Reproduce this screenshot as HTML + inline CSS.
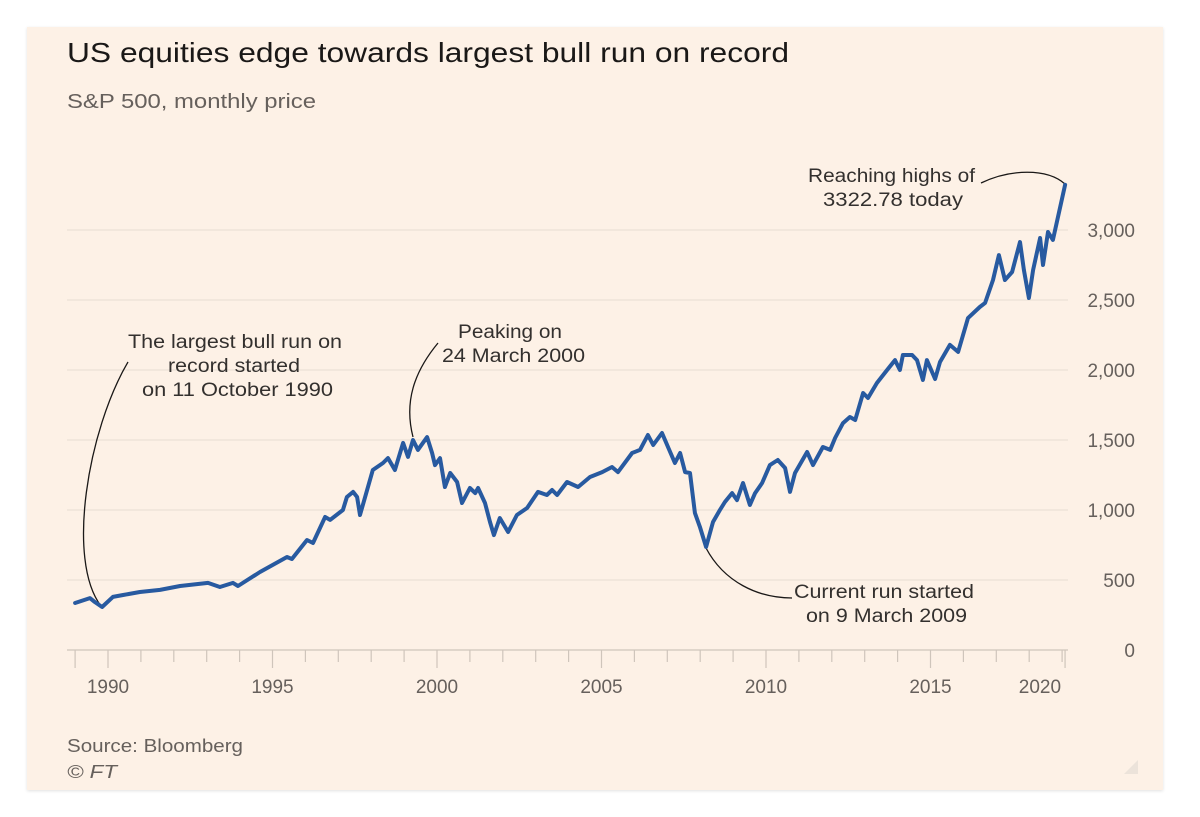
<!DOCTYPE html>
<html>
<head>
<meta charset="utf-8">
<style>
  html,body{margin:0;padding:0;background:#ffffff;}
  body{width:1200px;height:817px;position:relative;overflow:hidden;font-family:"Liberation Sans",sans-serif;}
  #panel{position:absolute;left:27px;top:27px;width:1136px;height:763px;background:#fdf1e6;box-shadow:0 1px 3px rgba(0,0,0,0.12);}
  svg{position:absolute;left:0;top:0;}
</style>
</head>
<body>
<div id="panel"></div>
<svg id="chart" width="1200" height="817" viewBox="0 0 1200 817">
  <text x="67" y="62" font-size="28" fill="#1a1817" textLength="722" lengthAdjust="spacingAndGlyphs">US equities edge towards largest bull run on record</text>
  <text x="67" y="108" font-size="20" fill="#66605c" textLength="249" lengthAdjust="spacingAndGlyphs">S&amp;P 500, monthly price</text>
  <g id="grid"></g>
  <g id="yaxis"></g>
  <g id="xaxis"></g>
  <g id="annotations" fill="none" stroke="#1a1817" stroke-width="1.3">
    <path d="M128,362 C88,430 66,560 101,606"/>
    <path d="M438,343 C414,372 404,402 413,437"/>
    <path d="M706,548 C724,582 758,598 792,598"/>
    <path d="M981,183 C1010,169 1047,168 1065,184"/>
  </g>
  <g font-size="19" fill="#33302e" text-anchor="start">
    <text x="128" y="348" textLength="214" lengthAdjust="spacingAndGlyphs">The largest bull run on</text>
    <text x="168" y="372" textLength="132" lengthAdjust="spacingAndGlyphs">record started</text>
    <text x="142" y="396" textLength="191" lengthAdjust="spacingAndGlyphs">on 11 October 1990</text>
    <text x="458" y="338" textLength="104" lengthAdjust="spacingAndGlyphs">Peaking on</text>
    <text x="442" y="362" textLength="143" lengthAdjust="spacingAndGlyphs">24 March 2000</text>
    <text x="794" y="598" textLength="180" lengthAdjust="spacingAndGlyphs">Current run started</text>
    <text x="806" y="622" textLength="161" lengthAdjust="spacingAndGlyphs">on 9 March 2009</text>
    <text x="808" y="182" textLength="167" lengthAdjust="spacingAndGlyphs">Reaching highs of</text>
    <text x="823" y="206" textLength="140" lengthAdjust="spacingAndGlyphs">3322.78 today</text>
  </g>
  <g id="series"></g>
  <text x="67" y="752" font-size="18" fill="#66605c" textLength="176" lengthAdjust="spacingAndGlyphs">Source: Bloomberg</text>
  <text x="67" y="778" font-size="18" font-style="italic" fill="#66605c" textLength="50" lengthAdjust="spacingAndGlyphs">© FT</text>
  <path d="M1124,774 L1138,760 L1138,774 Z" fill="#ece3da"/>
</svg>
<script>
const years = [1989.00,1989.45,1989.60,1989.82,1990.15,1990.46,1990.97,1991.58,1992.19,1993.04,1993.40,1993.80,1993.95,1994.62,1995.44,1995.59,1996.05,1996.23,1996.60,1996.75,1997.14,1997.26,1997.45,1997.57,1997.66,1998.05,1998.36,1998.51,1998.72,1998.97,1999.12,1999.27,1999.42,1999.70,1999.85,1999.94,2000.09,2000.24,2000.40,2000.61,2000.76,2001.00,2001.16,2001.25,2001.46,2001.61,2001.73,2001.91,2002.16,2002.43,2002.74,2003.07,2003.34,2003.50,2003.65,2003.95,2004.29,2004.65,2005.02,2005.32,2005.50,2005.93,2006.17,2006.41,2006.57,2006.84,2007.02,2007.23,2007.39,2007.54,2007.69,2007.84,2007.99,2008.18,2008.39,2008.60,2008.75,2008.97,2009.12,2009.30,2009.51,2009.67,2009.88,2010.12,2010.36,2010.58,2010.73,2010.88,2011.25,2011.43,2011.73,2011.95,2012.10,2012.34,2012.55,2012.71,2012.95,2013.10,2013.37,2013.68,2013.92,2014.07,2014.16,2014.44,2014.59,2014.77,2014.89,2015.14,2015.29,2015.59,2015.84,2016.14,2016.50,2016.66,2016.90,2017.08,2017.26,2017.48,2017.72,2017.84,2017.99,2018.12,2018.33,2018.42,2018.57,2018.72,2019.09];
const prices = [336,371,343,307,379,393,414,429,457,479,450,479,457,557,664,650,786,764,950,929,1000,1093,1129,1093,964,1286,1336,1371,1286,1479,1379,1500,1429,1521,1407,1321,1371,1164,1264,1200,1050,1157,1121,1157,1050,914,821,943,843,964,1014,1129,1107,1143,1107,1200,1164,1236,1271,1307,1271,1407,1429,1536,1464,1550,1450,1336,1407,1271,1264,979,879,736,914,1000,1057,1121,1071,1193,1036,1121,1193,1321,1357,1300,1129,1264,1414,1321,1450,1429,1514,1621,1664,1643,1836,1800,1907,2000,2071,2000,2107,2107,2071,1929,2071,1936,2057,2179,2129,2371,2450,2479,2643,2821,2643,2700,2914,2714,2514,2714,2943,2750,2986,2929,3322.78];
const yTicks = [0,500,1000,1500,2000,2500,3000];
const yTickLabels = ["0","500","1,000","1,500","2,000","2,500","3,000"];
const xLabelYears = [1990,1995,2000,2005,2010,2015];
const xLabels = ["1990","1995","2000","2005","2010","2015"];

const NS = "http://www.w3.org/2000/svg";
const X0 = 108, PX_PER_YEAR = 32.9, Y0 = 650, PX_PER_UNIT = 0.14;
const PLOT_LEFT = 67, PLOT_RIGHT = 1068;
function xScale(t){ return X0 + (t - 1990) * PX_PER_YEAR; }
function yScale(v){ return Y0 - v * PX_PER_UNIT; }
function mk(tag, attrs){ const e = document.createElementNS(NS, tag); for (const k in attrs) e.setAttribute(k, attrs[k]); return e; }

const grid = document.getElementById('grid');
const yaxis = document.getElementById('yaxis');
yTicks.forEach((v, i) => {
  if (v !== 0) {
    const l = mk('line', {x1: PLOT_LEFT, x2: PLOT_RIGHT, y1: yScale(v), y2: yScale(v), stroke: '#ebe1d7', 'stroke-width': 1.2});
    
    
    grid.appendChild(l);
  }
  const t = mk('text', {x: 1135, y: yScale(v) + 7, 'font-size': 19, fill: '#66605c', 'text-anchor': 'end'});
  t.textContent = yTickLabels[i];
  
  
  yaxis.appendChild(t);
});

const xaxis = document.getElementById('xaxis');
const axisLine = mk('line', {x1: PLOT_LEFT, x2: PLOT_RIGHT, y1: Y0, y2: Y0, stroke: '#cfc5bb', 'stroke-width': 1.3});


xaxis.appendChild(axisLine);
const tStart = years[0], tEnd = years[years.length - 1];
for (let y = Math.ceil(tStart); y <= tEnd; y++) {
  const major = (y % 5 === 0) || y === Math.ceil(tStart);
  const tk = mk('line', {x1: xScale(y), x2: xScale(y), y1: Y0, y2: Y0 + (major ? 18 : 12), stroke: '#cfc5bb', 'stroke-width': 1.2});
  
  
  xaxis.appendChild(tk);
}
const endTick = mk('line', {x1: xScale(tEnd), x2: xScale(tEnd), y1: Y0, y2: Y0 + 18, stroke: '#cfc5bb', 'stroke-width': 1.2});


xaxis.appendChild(endTick);
xLabelYears.forEach((yr, i) => {
  const t = mk('text', {x: xScale(yr), y: 693, 'font-size': 19, fill: '#66605c', 'text-anchor': 'middle'});
  t.textContent = xLabels[i];
  
  
  xaxis.appendChild(t);
});
const endLbl = mk('text', {x: xScale(tEnd) - 4, y: 693, 'font-size': 19, fill: '#66605c', 'text-anchor': 'end'});
endLbl.textContent = "2020";


xaxis.appendChild(endLbl);

const series = document.getElementById('series');
const d = years.map((t, i) => (i ? 'L' : 'M') + xScale(t).toFixed(1) + ',' + yScale(prices[i]).toFixed(1)).join(' ');
const line = mk('path', {d: d, fill: 'none', stroke: '#285aa0', 'stroke-width': 4, 'stroke-linejoin': 'round', 'stroke-linecap': 'round'});


series.appendChild(line);
</script>
</body>
</html>
